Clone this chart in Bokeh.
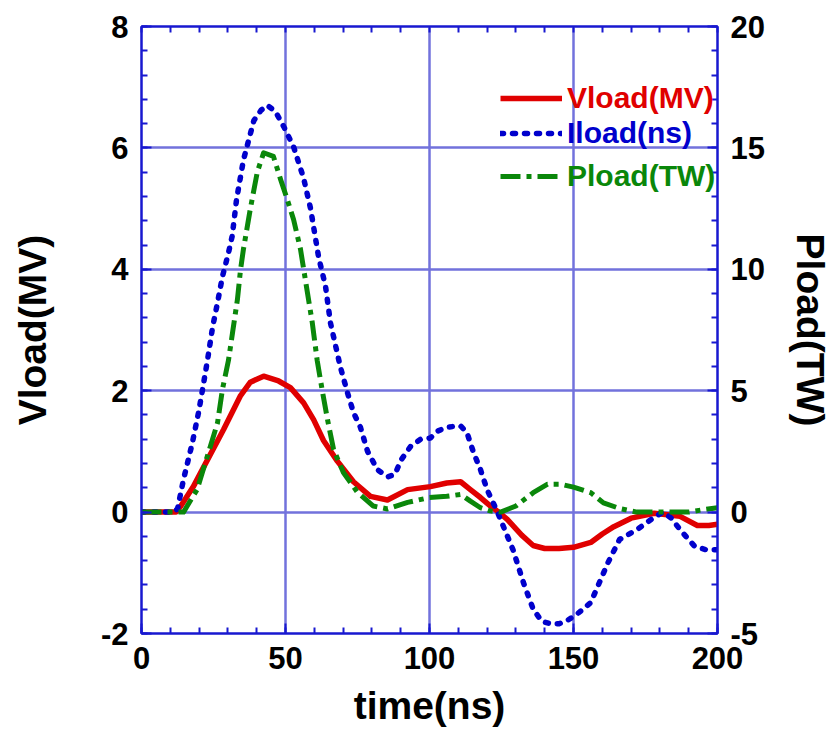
from bokeh.plotting import figure
from bokeh.models import Range1d, LinearAxis, FixedTicker, Legend, LegendItem
from bokeh.embed import file_html
from bokeh.resources import INLINE

# ---- data ----
t_v = [0, 12, 13.5, 18, 22.9, 28.5, 34.4, 37.8, 42.4, 47.6, 51.7, 56.3, 59.8, 63.2, 68,
       73.6, 79.5, 85.4, 92.4, 100.3, 106, 110.8, 114.2, 117.7, 121.2, 124, 127, 132, 136,
       140, 145, 150, 156, 160, 164, 170, 178, 187, 193, 197, 200]
v_load = [0, 0, 0.09, 0.42, 0.86, 1.36, 1.92, 2.14, 2.24, 2.16, 2.05, 1.8, 1.52, 1.18, 0.84,
          0.5, 0.26, 0.2, 0.37, 0.42, 0.48, 0.5, 0.37, 0.24, 0.1, 0, -0.12, -0.38, -0.55,
          -0.6, -0.6, -0.58, -0.5, -0.36, -0.24, -0.1, -0.02, -0.07, -0.22, -0.22, -0.2]

t_i = [0, 11, 12.5, 14.6, 17.7, 19.8, 21.2, 22.9, 24.7, 26.4, 28.1, 30.2, 31.5, 33, 35.4,
       39, 41.5, 43.7, 46.5, 49.4, 52.8, 56.3, 58.7, 61.5, 63.9, 65.6, 69, 71.5, 73.6, 76,
       78.5, 81.9, 85.4, 88, 90, 93.4, 96.9, 100.3, 102.6, 106, 110.8, 113, 115.3, 117.7,
       120, 123.6, 129, 132.6, 136, 139, 142, 145, 148, 151, 156, 159, 162, 166, 172, 177,
       181, 184, 187, 192, 196, 200]
i_load = [0, 0, 0.05, 0.54, 1.15, 1.64, 2.02, 2.5, 3.05, 3.45, 3.88, 4.27, 4.55, 5.15, 5.8,
          6.45, 6.62, 6.7, 6.6, 6.35, 6.02, 5.5, 5.0, 4.2, 3.72, 3.12, 2.4, 1.97, 1.64, 1.4,
          1.0, 0.7, 0.58, 0.62, 0.85, 1.08, 1.2, 1.22, 1.33, 1.4, 1.42, 1.31, 0.98, 0.7,
          0.37, 0, -0.62, -1.16, -1.6, -1.8, -1.84, -1.84, -1.78, -1.69, -1.49, -1.16,
          -0.83, -0.45, -0.29, -0.12, 0, -0.1, -0.29, -0.56, -0.62, -0.62]

t_p = [0, 14.6, 19.3, 23.9, 26.4, 28.1, 30.2, 31.6, 33.3, 34.4, 35.4, 37.8, 40.2, 42.4,
       45.8, 48.3, 50.6, 52.8, 55.2, 57.6, 59.3, 61, 62.7, 64.6, 66.7, 70.1, 74.9, 80.5,
       85.4, 92.4, 100, 106, 110.8, 114.2, 117.7, 121, 124.7, 130, 136, 141, 145.5, 150,
       156, 160.4, 166, 172, 180, 190, 195, 200]
p_load = [0, 0, 0.93, 2.7, 3.68, 5.05, 6.25, 7.38, 8.75, 10.0, 10.83, 12.5, 14.0, 14.8,
          14.65, 13.7, 12.88, 12.05, 10.83, 9.05, 7.8, 6.25, 5.05, 3.8, 2.58, 1.63, 0.83,
          0.25, 0.13, 0.4, 0.6, 0.65, 0.73, 0.45, 0.18, 0.05, 0, 0.25, 0.8, 1.15, 1.15,
          1.03, 0.8, 0.38, 0.15, 0, 0, 0, 0.1, 0.18]

x_ticks = [0, 50, 100, 150, 200]
x_minor = list(range(0, 201, 10))
yl_ticks = [-2, 0, 2, 4, 6, 8]
yl_minor = [round(-2 + 0.4 * k, 2) for k in range(26)]
yr_ticks = [-5, 0, 5, 10, 15, 20]
yr_minor = list(range(-5, 21))

FONT = "Liberation Sans"
AXC = "#1818d0"
GRID = "#7272dc"

p = figure(width=835, height=736, output_backend="svg", toolbar_location=None,
           x_range=Range1d(0, 200), y_range=Range1d(-2, 8),
           min_border_left=141, min_border_right=118, min_border_top=26,
           min_border_bottom=103)
p.extra_y_ranges = {"pw": Range1d(-5, 20)}
p.outline_line_color = AXC
p.outline_line_width = 2
p.background_fill_color = "white"
p.border_fill_color = "white"


def style_axis(ax, ticks, minor):
    ax.ticker = FixedTicker(ticks=ticks, minor_ticks=minor)
    ax.axis_line_color = AXC
    ax.axis_line_width = 2
    ax.major_tick_line_color = AXC
    ax.major_tick_line_width = 2
    ax.minor_tick_line_color = AXC
    ax.minor_tick_line_width = 2
    ax.major_tick_in = 10
    ax.major_tick_out = 0
    ax.minor_tick_in = 6
    ax.minor_tick_out = 0
    ax.major_label_text_font = FONT
    ax.major_label_text_font_style = "bold"
    ax.major_label_text_font_size = "31px"
    ax.major_label_text_color = "black"
    ax.major_label_standoff = 13
    ax.axis_label_text_font = FONT
    ax.axis_label_text_font_style = "bold"
    ax.axis_label_text_font_size = "39px"
    ax.axis_label_text_color = "black"


xa = p.xaxis[0]
style_axis(xa, x_ticks, x_minor)
xa.axis_label = "time(ns)"
xa.axis_label_standoff = 12

ya = p.yaxis[0]
style_axis(ya, yl_ticks, yl_minor)
ya.major_label_overrides = {-2: "-2"}
ya.axis_label = "Vload(MV)"
ya.axis_label_standoff = 44

ra = LinearAxis(y_range_name="pw")
style_axis(ra, yr_ticks, yr_minor)
ra.major_label_overrides = {-5: "-5"}
ra.axis_label = "Pload(TW)"
ra.axis_label_standoff = 21
p.add_layout(ra, "right")

ta = LinearAxis()
style_axis(ta, [], x_minor)
p.add_layout(ta, "above")

p.xgrid.ticker = FixedTicker(ticks=x_ticks)
p.ygrid.ticker = FixedTicker(ticks=yl_ticks)
for g in (p.xgrid[0], p.ygrid[0]):
    g.grid_line_color = GRID
    g.grid_line_width = 2.5

r_v = p.line(t_v, v_load, line_color="#e00000", line_width=5.5, line_join="round")
r_i = p.line(t_i, i_load, line_color="#0000cc", line_width=5.5, line_dash="3 9",
             line_cap="round", line_join="round")
r_p = p.line(t_p, p_load, y_range_name="pw", line_color="#0a870a", line_width=5,
             line_dash="20 6 5 6", line_join="round")

for lab, r, col, loc in [("Vload(MV)", r_v, "#e00000", (359, 518)),
                         ("Iload(ns)", r_i, "#0000cc", (359, 483)),
                         ("Pload(TW)", r_p, "#0a870a", (359, 440))]:
    leg = Legend(items=[LegendItem(label=lab, renderers=[r])], location=loc,
                 border_line_color=None, background_fill_alpha=0,
                 padding=0, margin=0, spacing=0, glyph_width=62, glyph_height=30,
                 label_standoff=5, label_text_font=FONT, label_text_font_style="bold",
                 label_text_font_size="30px", label_text_color=col)
    p.add_layout(leg)

open("out.html", "w").write(file_html(p, INLINE))
